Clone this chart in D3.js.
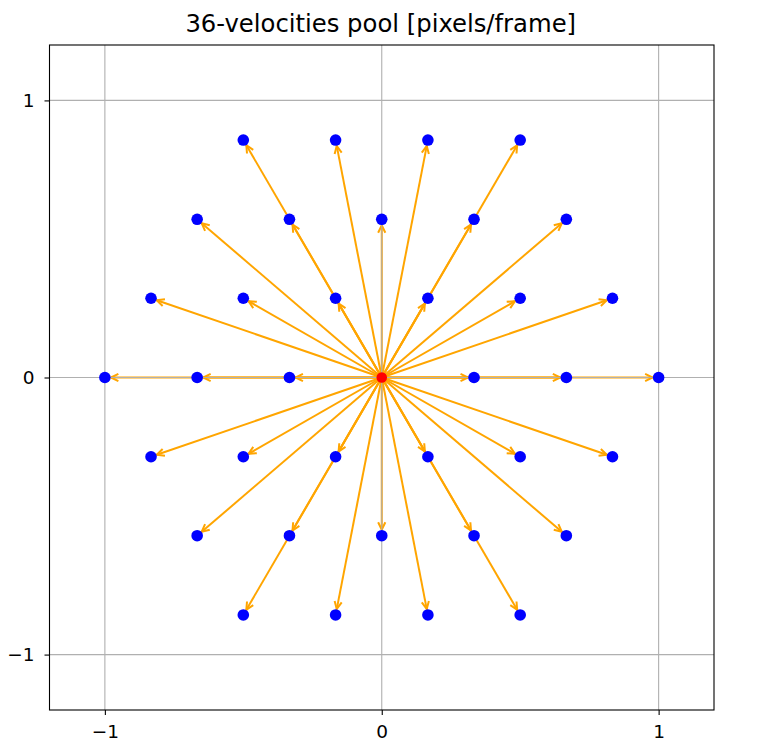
<!DOCTYPE html>
<html>
<head>
<meta charset="utf-8">
<script src="https://cdn.jsdelivr.net/npm/d3@7"></script>
<style>
  html, body { margin: 0; padding: 0; background: #fff; }
  svg { display: block; }
  text { font-family: "DejaVu Sans", sans-serif; fill: #000; }
</style>
</head>
<body>
<svg id="chart" width="768" height="748"></svg>
<script>
// ---- data ----
const title = "36-velocities pool [pixels/frame]";
const velX = [
  -1, -0.6667, -0.3333, 0.3333, 0.6667, 1,
  -0.8333, -0.5, -0.1667, 0.1667, 0.5, 0.8333,
  -0.8333, -0.5, -0.1667, 0.1667, 0.5, 0.8333,
  -0.6667, -0.3333, 0, 0.3333, 0.6667,
  -0.6667, -0.3333, 0, 0.3333, 0.6667,
  -0.5, -0.1667, 0.1667, 0.5,
  -0.5, -0.1667, 0.1667, 0.5
];
const velY = [
  0, 0, 0, 0, 0, 0,
  0.286, 0.286, 0.286, 0.286, 0.286, 0.286,
  -0.286, -0.286, -0.286, -0.286, -0.286, -0.286,
  0.571, 0.571, 0.571, 0.571, 0.571,
  -0.571, -0.571, -0.571, -0.571, -0.571,
  0.857, 0.857, 0.857, 0.857,
  -0.857, -0.857, -0.857, -0.857
];
const origin = [0, 0];
const xTicks = [-1, 0, 1];
const yTicks = [-1, 0, 1];
const xDomain = [-1.2, 1.2];
const yDomain = [-1.2, 1.2];

// ---- layout ----
const svg = d3.select("#chart");
const L = 49.5, R = 714, T = 45, B = 710;
const x = d3.scaleLinear().domain(xDomain).range([L, R]);
const y = d3.scaleLinear().domain(yDomain).range([B, T]);

const tickFmt = d => d < 0 ? "\u2212" + Math.abs(d) : String(d);

// arrows (beneath grid, like matplotlib patches)
const arrows = svg.append("g");
const ox = x(origin[0]), oy = y(origin[1]);
velX.forEach((vx, i) => {
  const px = x(vx), py = y(velY[i]);
  const dx = px - ox, dy = py - oy;
  const len = Math.hypot(dx, dy);
  const ux = dx / len, uy = dy / len;
  const nx = -uy, ny = ux;
  const tipX = px - ux * 6, tipY = py - uy * 6;
  arrows.append("line")
    .attr("x1", ox).attr("y1", oy).attr("x2", tipX).attr("y2", tipY)
    .attr("stroke", "#ffa500").attr("stroke-width", 2);
  const hl = 7.5, hw = 3.6;
  arrows.append("path")
    .attr("d", `M${tipX - ux*hl + nx*hw},${tipY - uy*hl + ny*hw} L${tipX},${tipY} L${tipX - ux*hl - nx*hw},${tipY - uy*hl - ny*hw}`)
    .attr("fill", "none").attr("stroke", "#ffa500").attr("stroke-width", 2)
    .attr("stroke-linejoin", "miter");
});

// grid
const grid = svg.append("g");
xTicks.forEach(t => grid.append("line")
  .attr("x1", x(t)).attr("x2", x(t)).attr("y1", T).attr("y2", B)
  .attr("stroke", "#b0b0b0").attr("stroke-width", 1.1));
yTicks.forEach(t => grid.append("line")
  .attr("y1", y(t)).attr("y2", y(t)).attr("x1", L).attr("x2", R)
  .attr("stroke", "#b0b0b0").attr("stroke-width", 1.1));

// points
svg.append("g").selectAll("circle")
  .data(velX.map((vx, i) => [vx, velY[i]]))
  .join("circle")
  .attr("cx", d => x(d[0])).attr("cy", d => y(d[1]))
  .attr("r", 5.8).attr("fill", "#0000ff");

svg.append("circle")
  .attr("cx", x(origin[0])).attr("cy", y(origin[1]))
  .attr("r", 5.3).attr("fill", "#ff0000");

// axes
const xAxis = d3.axisBottom(x).tickValues(xTicks).tickFormat(tickFmt).tickSize(5).tickPadding(10);
const yAxis = d3.axisLeft(y).tickValues(yTicks).tickFormat(tickFmt).tickSize(5).tickPadding(10);
const gx = svg.append("g").attr("transform", `translate(0,${B})`).call(xAxis);
const gy = svg.append("g").attr("transform", `translate(${L},0)`).call(yAxis);
[gx, gy].forEach(g => {
  g.select(".domain").remove();
  g.selectAll(".tick line").attr("stroke", "#000").attr("stroke-width", 1.1);
  g.selectAll(".tick text").attr("font-family", "DejaVu Sans").attr("font-size", 18.5).attr("fill", "#000");
});

// frame
svg.append("rect").attr("x", L).attr("y", T).attr("width", R - L).attr("height", B - T)
  .attr("fill", "none").attr("stroke", "#000").attr("stroke-width", 1.1);

// title
svg.append("text").attr("x", (L + R) / 2 - 1).attr("y", 32)
  .attr("text-anchor", "middle").attr("font-size", 24.3).text(title);
</script>
</body>
</html>
